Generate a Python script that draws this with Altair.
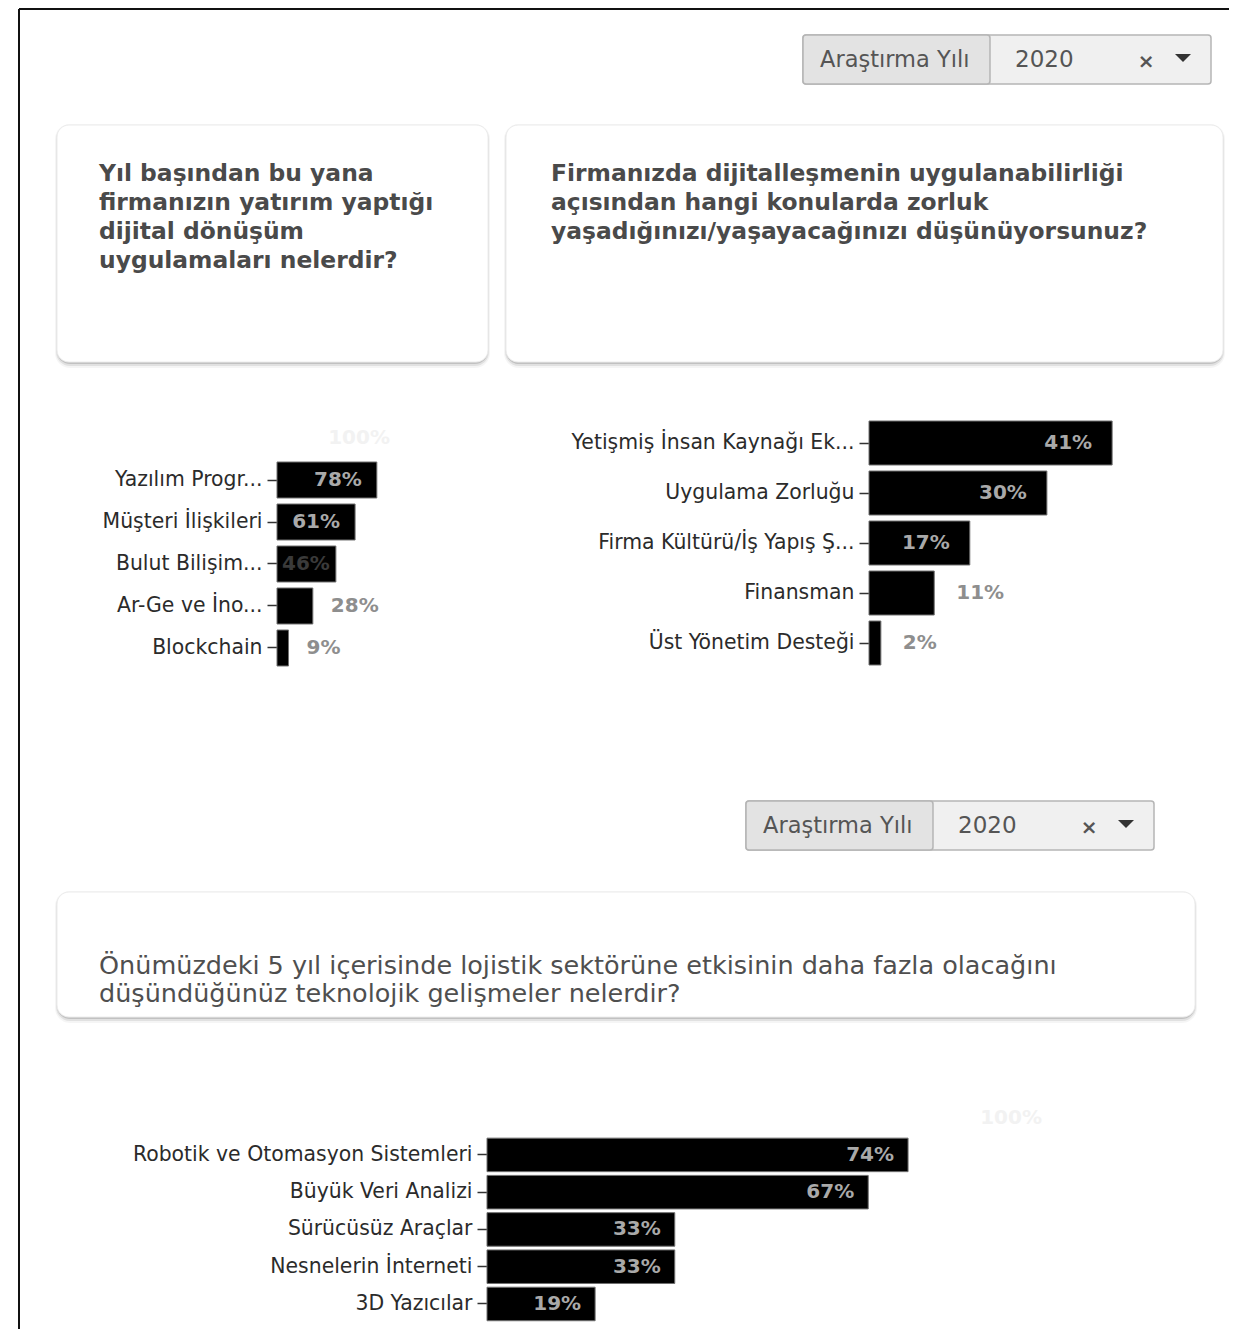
import altair as alt
import pandas as pd

# ---------------- data ----------------
filter_label = "Araştırma Yılı"
filter_year = "2020"

q1_title = ["Yıl başından bu yana", "firmanızın yatırım yaptığı",
            "dijital dönüşüm", "uygulamaları nelerdir?"]
q1_categories = ["Yazılım Progr...", "Müşteri İlişkileri", "Bulut Bilişim...",
                 "Ar-Ge ve İno...", "Blockchain"]
q1_values = [78, 61, 46, 28, 9]

q2_title = ["Firmanızda dijitalleşmenin uygulanabilirliği",
            "açısından hangi konularda zorluk",
            "yaşadığınızı/yaşayacağınızı düşünüyorsunuz?"]
q2_categories = ["Yetişmiş İnsan Kaynağı Ek...", "Uygulama Zorluğu",
                 "Firma Kültürü/İş Yapış Ş...", "Finansman", "Üst Yönetim Desteği"]
q2_values = [41, 30, 17, 11, 2]

q3_title = ["Önümüzdeki 5 yıl içerisinde lojistik sektörüne etkisinin daha fazla olacağını",
            "düşündüğünüz teknolojik gelişmeler nelerdir?"]
q3_categories = ["Robotik ve Otomasyon Sistemleri", "Büyük Veri Analizi",
                 "Sürücüsüz Araçlar", "Nesnelerin İnterneti", "3D Yazıcılar"]
q3_values = [74, 67, 33, 33, 19]

scale_max = 100

# ---------------- layout helpers ----------------
W, H = 1221, 1321
M = 8
FONT = "DejaVu Sans"
one = pd.DataFrame({"k": [0]})


def px(v):
    return v - M


def rect(x0, y0, x1, y1, **kw):
    return alt.Chart(one).mark_rect(**kw).encode(
        x=alt.value(px(x0)), x2=alt.value(px(x1)),
        y=alt.value(px(y0)), y2=alt.value(px(y1)))


def rule(x0, y0, x1, y1, **kw):
    return alt.Chart(one).mark_rule(**kw).encode(
        x=alt.value(px(x0)), x2=alt.value(px(x1)),
        y=alt.value(px(y0)), y2=alt.value(px(y1)))


def txt(x, y, s, **kw):
    return alt.Chart(one).mark_text(text=s, font=FONT, **kw).encode(
        x=alt.value(px(x)), y=alt.value(px(y)))


def card(x0, y0, x1, y1):
    return [
        rect(x0 - 2, y0 - 1, x1 + 2, y1 + 6, color="#000000", opacity=0.04, cornerRadius=15),
        rect(x0 - 1, y0, x1 + 1, y1 + 4, color="#000000", opacity=0.08, cornerRadius=14),
        rect(x0, y0 + 1, x1, y1 + 2, color="#000000", opacity=0.14, cornerRadius=13),
        rect(x0, y0, x1, y1, color="#ffffff", cornerRadius=12,
             stroke="#ececec", strokeWidth=1),
    ]


def dropdown(x0, y0):
    x1, y1, xm = x0 + 408, y0 + 49, x0 + 187
    return [
        rect(x0, y0, x1, y1, color="#f0f0f0", stroke="#b5b5b5",
             strokeWidth=1.5, cornerRadius=3),
        rect(x0, y0, xm, y1, color="#e3e3e3", stroke="#b5b5b5",
             strokeWidth=1.5, cornerRadius=3),
        txt(x0 + 17, y0 + 25, filter_label, fontSize=22.5, color="#555555",
            align="left", baseline="middle"),
        txt(x0 + 212, y0 + 25, filter_year, fontSize=23, color="#555555",
            align="left", baseline="middle"),
        txt(x0 + 343, y0 + 27, "×", fontSize=20, fontWeight="bold",
            color="#555555", align="center", baseline="middle"),
        alt.Chart(one).mark_point(shape="M-1,-0.5L1,-0.5L0,0.5Z", size=256,
                                  filled=True, color="#333333", opacity=1).encode(
            x=alt.value(px(x0 + 380)), y=alt.value(px(y0 + 23))),
    ]


def panel(cats, vals, x0, x1, y0, y1, pad, with_ref,
          inside_dx, outside_dx, inside_min, base_min):
    domain = (["ref"] if with_ref else []) + cats
    df = pd.DataFrame({"cat": cats, "v": vals})
    xs = alt.Scale(domain=[0, scale_max], range=[px(x0), px(x1)], nice=False)
    ys = alt.Scale(domain=domain, range=[px(y0), px(y1)],
                   paddingInner=pad, paddingOuter=pad / 2)
    yaxis = alt.Axis(orient="left", offset=-px(x0), values=cats, domain=False,
                     tickSize=10, tickWidth=1.5, tickColor="#333333",
                     labelFont=FONT, labelFontSize=20.4, labelColor="#2b2b2b",
                     labelPadding=5, labelLimit=600, title=None, grid=False)
    X = alt.X("v:Q", scale=xs, axis=None)
    Y = alt.Y("cat:N", scale=ys, axis=yaxis, sort=None)

    lab = dict(baseline="middle", font=FONT, fontSize=20, fontWeight="bold")
    base = alt.Chart(df).transform_calculate(lbl="datum.v + '%'")

    layers = [
        alt.Chart(df).mark_bar(color="#000000", stroke="#707070",
                               strokeWidth=1).encode(x=X, y=Y),
        base.transform_filter(f"datum.v >= {inside_min}").mark_text(
            align="right", dx=inside_dx, color="#a9a9a9", **lab).encode(
            x=X, y=Y, text="lbl:N"),
        base.transform_filter(f"datum.v < {base_min}").mark_text(
            align="left", dx=outside_dx, color="#8e8e8e", **lab).encode(
            x=X, y=Y, text="lbl:N"),
    ]
    if base_min < inside_min:
        layers.append(
            base.transform_filter(f"datum.v >= {base_min} && datum.v < {inside_min}")
            .transform_calculate(start="0")
            .mark_text(align="left", dx=5, color="#3a3a3a", **lab)
            .encode(x=alt.X("start:Q", scale=xs, axis=None), y=Y, text="lbl:N"))
    if with_ref:
        ref = pd.DataFrame({"cat": ["ref"], "v": [scale_max]})
        layers.append(
            alt.Chart(ref).transform_calculate(lbl="datum.v + '%'")
            .mark_text(align="right", dx=inside_dx, color="#f2f2f2", **lab)
            .encode(x=X, y=Y, text="lbl:N"))
    return alt.layer(*layers)


# ---------------- build ----------------
decor = []
decor.append(rule(19, 9, 1237, 9, color="#111111", strokeWidth=2))
decor.append(rule(19, 9, 19, 1337, color="#111111", strokeWidth=2))

decor += dropdown(803, 35)
decor += card(57, 125, 488, 362)
decor += card(506, 125, 1223, 362)
decor.append(txt(99, 181, q1_title, fontSize=23.4, fontWeight="bold",
                 color="#4a4a4a", align="left", baseline="alphabetic", lineHeight=29))
decor.append(txt(551, 181, q2_title, fontSize=23.4, fontWeight="bold",
                 color="#4a4a4a", align="left", baseline="alphabetic", lineHeight=29))

decor += dropdown(746, 801)
decor += card(57, 892, 1195, 1017)
decor.append(txt(99, 974, q3_title, fontSize=25.5, color="#4f4f4f",
                 align="left", baseline="alphabetic", lineHeight=28))

p1 = panel(q1_categories, q1_values, 277, 405, 417, 669, 0.143, True,
           -15, 18, 55, 35)
p2 = panel(q2_categories, q2_values, 869, 1462, 418, 668, 0.12, False,
           -20, 22, 15, 15)
p3 = panel(q3_categories, q3_values, 487, 1056, 1099, 1322.6, 0.1, True,
           -14, 18, 0, 0)

chart = (
    alt.layer(*decor, p1, p2, p3)
    .resolve_scale(x="independent", y="independent")
    .properties(width=W, height=H, padding=0,
                autosize=alt.AutoSizeParams(type="none"))
    .configure_view(strokeWidth=0)
)

chart.save("out.html", embed_options={"renderer": "svg", "actions": False})
